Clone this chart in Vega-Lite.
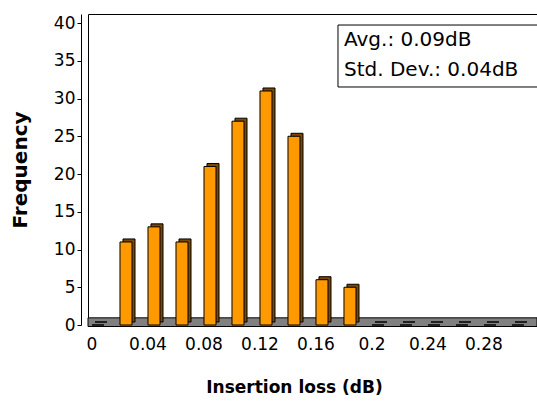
{
  "$schema": "https://vega.github.io/schema/vega-lite/v6.json",
  "width": 449,
  "height": 311,
  "autosize": {"type": "none"},
  "padding": {"left": 88, "top": 14, "right": 0, "bottom": 78},
  "background": "white",
  "config": {
    "view": {"stroke": "black", "strokeWidth": 1},
    "font": "DejaVu Sans",
    "axisY": {"labelOverlap": false}
  },
  "layer": [
    {
      "data": {"values": [{"floor": "floor"}]},
      "mark": {"type": "rect", "fill": "#808080", "stroke": "black", "strokeWidth": 1},
      "encoding": {
        "y": {"datum": -0.2, "type": "quantitative", "scale": {"domain": [0, 41.2], "nice": false, "zero": true},
          "axis": {"title": "Frequency", "values": [0, 5, 10, 15, 20, 25, 30, 35, 40], "offset": 7, "grid": false, "domainColor": "black", "tickColor": "black", "tickSize": 4, "labelFontSize": 17, "labelColor": "black", "labelPadding": 2, "labelOverlap": false, "titleFontSize": 20, "titleFontWeight": "bold", "titleColor": "black", "titlePadding": 23}},
        "y2": {"datum": 0.95}
      }
    },
    {
      "data": {
        "values": [
          {"loss": "0", "freq": 0},
          {"loss": "0.02", "freq": 11},
          {"loss": "0.04", "freq": 13},
          {"loss": "0.06", "freq": 11},
          {"loss": "0.08", "freq": 21},
          {"loss": "0.1", "freq": 27},
          {"loss": "0.12", "freq": 31},
          {"loss": "0.14", "freq": 25},
          {"loss": "0.16", "freq": 6},
          {"loss": "0.18", "freq": 5},
          {"loss": "0.2", "freq": 0},
          {"loss": "0.22", "freq": 0},
          {"loss": "0.24", "freq": 0},
          {"loss": "0.26", "freq": 0},
          {"loss": "0.28", "freq": 0},
          {"loss": "0.3", "freq": 0}
        ]
      },
      "encoding": {
        "x": {
          "field": "loss", "type": "ordinal", "sort": null,
          "scale": {"paddingInner": 0.571, "paddingOuter": 0.304, "align": 0.235},
          "axis": {"title": "Insertion loss (dB)", "values": ["0", "0.04", "0.08", "0.12", "0.16", "0.2", "0.24", "0.28"], "labelAngle": 0, "ticks": false, "domain": false, "labelOffset": -6, "labelPadding": 11, "labelFontSize": 17, "labelColor": "black", "labelOverlap": false, "titleFontSize": 17, "titleFontWeight": "bold", "titleColor": "black", "titlePadding": 27, "titleX": 206}
        },
        "y": {
          "field": "freq", "type": "quantitative",
          "scale": {"domain": [0, 41.2], "nice": false, "zero": true},
          "axis": {"title": "Frequency", "values": [0, 5, 10, 15, 20, 25, 30, 35, 40], "offset": 7, "grid": false, "domainColor": "black", "tickColor": "black", "tickSize": 4, "labelFontSize": 17, "labelColor": "black", "labelPadding": 2, "labelOverlap": false, "titleFontSize": 20, "titleFontWeight": "bold", "titleColor": "black", "titlePadding": 23}
        }
      },
      "layer": [
        {"mark": {"type": "bar", "fill": "#7a4800", "stroke": "black", "strokeWidth": 1, "xOffset": 3, "yOffset": -3}},
        {"mark": {"type": "bar", "fill": "#ff9900", "stroke": "black", "strokeWidth": 1}}
      ]
    },
    {
      "data": {"values": [{"box": "stats"}]},
      "mark": {"type": "rect", "fill": "white", "stroke": "black", "strokeWidth": 1, "xOffset": -12, "x2Offset": 21},
      "encoding": {
        "x": {"datum": "0.18", "type": "ordinal",
          "axis": {"title": "Insertion loss (dB)", "values": ["0", "0.04", "0.08", "0.12", "0.16", "0.2", "0.24", "0.28"], "labelAngle": 0, "ticks": false, "domain": false, "labelOffset": -6, "labelPadding": 11, "labelFontSize": 17, "labelColor": "black", "labelOverlap": false, "titleFontSize": 17, "titleFontWeight": "bold", "titleColor": "black", "titlePadding": 27, "titleX": 206}},
        "x2": {"datum": "0.3"},
        "y": {"datum": 39.74, "type": "quantitative",
          "axis": {"title": "Frequency", "values": [0, 5, 10, 15, 20, 25, 30, 35, 40], "offset": 7, "grid": false, "domainColor": "black", "tickColor": "black", "tickSize": 4, "labelFontSize": 17, "labelColor": "black", "labelPadding": 2, "labelOverlap": false, "titleFontSize": 20, "titleFontWeight": "bold", "titleColor": "black", "titlePadding": 23}},
        "y2": {"datum": 31.53}
      }
    },
    {
      "data": {"values": [{"stat": "Avg.: 0.09dB", "row": 1}, {"stat": "Std. Dev.: 0.04dB", "row": 2}]},
      "transform": [{"filter": "datum.row == 1"}],
      "mark": {"type": "text", "align": "left", "baseline": "middle", "fontSize": 20, "font": "DejaVu Sans", "color": "black", "xOffset": -6},
      "encoding": {
        "text": {"field": "stat"},
        "x": {"datum": "0.18", "type": "ordinal",
          "axis": {"title": "Insertion loss (dB)", "values": ["0", "0.04", "0.08", "0.12", "0.16", "0.2", "0.24", "0.28"], "labelAngle": 0, "ticks": false, "domain": false, "labelOffset": -6, "labelPadding": 11, "labelFontSize": 17, "labelColor": "black", "labelOverlap": false, "titleFontSize": 17, "titleFontWeight": "bold", "titleColor": "black", "titlePadding": 27, "titleX": 206}},
        "y": {"datum": 37.76, "type": "quantitative",
          "axis": {"title": "Frequency", "values": [0, 5, 10, 15, 20, 25, 30, 35, 40], "offset": 7, "grid": false, "domainColor": "black", "tickColor": "black", "tickSize": 4, "labelFontSize": 17, "labelColor": "black", "labelPadding": 2, "labelOverlap": false, "titleFontSize": 20, "titleFontWeight": "bold", "titleColor": "black", "titlePadding": 23}}
      }
    },
    {
      "data": {"values": [{"stat": "Avg.: 0.09dB", "row": 1}, {"stat": "Std. Dev.: 0.04dB", "row": 2}]},
      "transform": [{"filter": "datum.row == 2"}],
      "mark": {"type": "text", "align": "left", "baseline": "middle", "fontSize": 20, "font": "DejaVu Sans", "color": "black", "xOffset": -6},
      "encoding": {
        "text": {"field": "stat"},
        "x": {"datum": "0.18", "type": "ordinal",
          "axis": {"title": "Insertion loss (dB)", "values": ["0", "0.04", "0.08", "0.12", "0.16", "0.2", "0.24", "0.28"], "labelAngle": 0, "ticks": false, "domain": false, "labelOffset": -6, "labelPadding": 11, "labelFontSize": 17, "labelColor": "black", "labelOverlap": false, "titleFontSize": 17, "titleFontWeight": "bold", "titleColor": "black", "titlePadding": 27, "titleX": 206}},
        "y": {"datum": 33.78, "type": "quantitative",
          "axis": {"title": "Frequency", "values": [0, 5, 10, 15, 20, 25, 30, 35, 40], "offset": 7, "grid": false, "domainColor": "black", "tickColor": "black", "tickSize": 4, "labelFontSize": 17, "labelColor": "black", "labelPadding": 2, "labelOverlap": false, "titleFontSize": 20, "titleFontWeight": "bold", "titleColor": "black", "titlePadding": 23}}
      }
    }
  ]
}
